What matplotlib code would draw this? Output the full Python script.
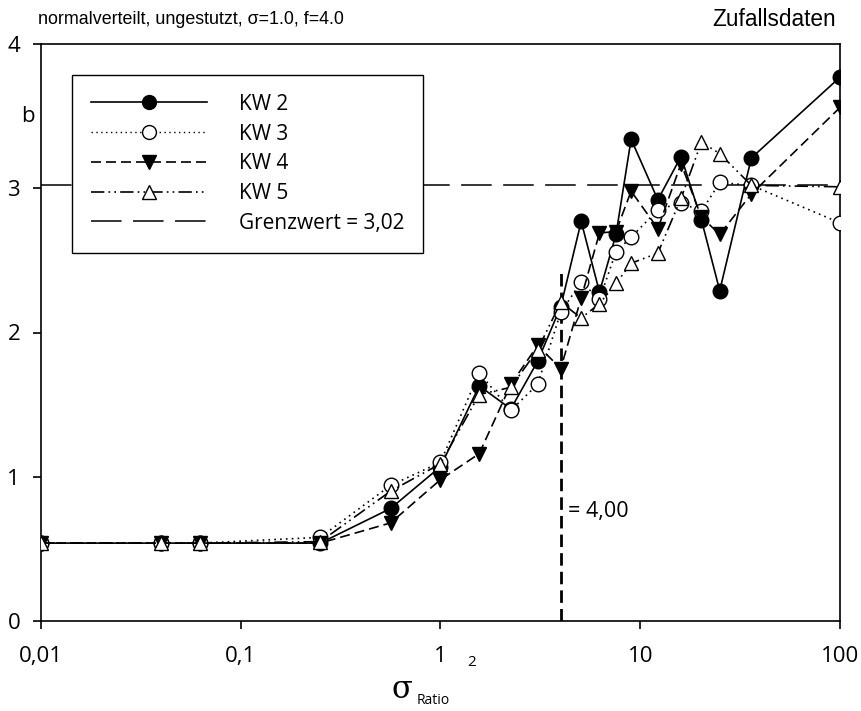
import matplotlib
matplotlib.use('Agg')
import matplotlib.pyplot as plt
from matplotlib.lines import Line2D
from matplotlib.ticker import FixedLocator, NullLocator

# Werte
sigma_ratio_sq = [0.01, 0.04, 0.0625, 0.25, 0.5625, 1, 1.5625, 2.25, 3.0625, 4,
                  5.0625, 6.25, 7.5625, 9, 12.25, 16, 20.25, 25, 36, 100]
kw2 = [0.54, 0.54, 0.54, 0.54, 0.78, 1.07, 1.63, 1.47, 1.80, 2.18,
       2.77, 2.28, 2.68, 3.34, 2.92, 3.22, 2.78, 2.29, 3.21, 3.77]
kw3 = [0.54, 0.54, 0.54, 0.58, 0.94, 1.10, 1.72, 1.46, 1.64, 2.14,
       2.35, 2.23, 2.56, 2.66, 2.85, 2.90, 2.84, 3.04, 3.02, 2.76]
kw4 = [0.54, 0.54, 0.54, 0.54, 0.68, 0.98, 1.16, 1.64, 1.91, 1.75,
       2.24, 2.69, 2.70, 2.98, 2.72, 3.17, 2.80, 2.68, 2.96, 3.56]
kw5 = [0.54, 0.54, 0.54, 0.55, 0.90, 1.09, 1.57, 1.62, 1.88, 2.21,
       2.10, 2.20, 2.34, 2.48, 2.55, 2.93, 3.32, 3.24, 3.02, 3.01]
grenzwert = 3.02
schwelle_x = 4.0
schwelle_top = 2.45
x_ticks = [0.01, 0.1, 1, 10, 100]
x_labels = ['0,01', '0,1', '1', '10', '100']
y_ticks = [0, 1, 2, 3, 4]

TICKFONT = 'Open Sans'
ARIAL = 'Liberation Sans'

fig = plt.figure(figsize=(8.62, 7.11), dpi=100)
ax = fig.add_axes([41 / 862, 90 / 711, (840 - 41) / 862, (621 - 44) / 711])

ax.set_xscale('log')
ax.set_xlim(0.01, 100)
ax.set_ylim(0, 4)

# Grenzwert-Linie und Schwelle
ax.plot([0.01, 100], [grenzwert, grenzwert], color='black', lw=1.1,
        dashes=(20, 7.5), zorder=1)
ax.plot([schwelle_x, schwelle_x], [0, schwelle_top], color='black', lw=2.0,
        dashes=(4.5, 2.2), zorder=1)

ms = 10.5
series = [
    (kw2, None, 'o', 'black'),
    (kw3, (1, 2.5), 'o', 'white'),
    (kw4, (6, 3), 'v', 'black'),
    (kw5, (8, 2.5, 1, 2.5, 1, 2.5), '^', 'white'),
]
for vals, dsh, mk, fc in series:
    kw = dict(color='black', lw=1.2, marker=mk, markersize=ms,
              markerfacecolor=fc, markeredgecolor='black', markeredgewidth=1.0,
              zorder=3)
    if dsh is None:
        ax.plot(sigma_ratio_sq, vals, linestyle='-', **kw)
    else:
        ax.plot(sigma_ratio_sq, vals, linestyle=(0, dsh), **kw)

ax.xaxis.set_major_locator(FixedLocator(x_ticks))
ax.xaxis.set_minor_locator(NullLocator())
ax.set_xticklabels(x_labels)
ax.set_yticks(y_ticks)
ax.set_yticklabels([str(v) for v in y_ticks])
ax.tick_params(direction='out', length=6, width=1.2, labelsize=16)
ax.tick_params(axis='x', pad=12)
ax.tick_params(axis='y', pad=9)
for lab in ax.get_xticklabels() + ax.get_yticklabels():
    lab.set_family(TICKFONT)
for s in ax.spines.values():
    s.set_linewidth(1.2)

# Legende
handles = [
    Line2D([], [], color='black', lw=1.2, marker='o', markersize=ms - 0.5,
           markerfacecolor='black', markeredgecolor='black'),
    Line2D([], [], color='black', lw=1.0, linestyle=(0, (1, 2.5)), marker='o',
           markersize=ms - 0.5, markerfacecolor='white', markeredgecolor='black'),
    Line2D([], [], color='black', lw=1.2, linestyle=(0, (6, 3)), marker='v',
           markersize=ms - 0.5, markerfacecolor='black', markeredgecolor='black'),
    Line2D([], [], color='black', lw=1.2, linestyle=(0, (8, 2.5, 1, 2.5, 1, 2.5)),
           marker='^', markersize=ms - 0.5, markerfacecolor='white',
           markeredgecolor='black'),
    Line2D([], [], color='black', lw=1.1, linestyle=(0, (20, 7.5))),
]
labels = ['KW 2', 'KW 3', 'KW 4', 'KW 5', 'Grenzwert = 3,02']
leg = ax.legend(handles, labels, loc='upper left',
                bbox_to_anchor=((72 - 41) / 799, (621 - 75) / 577),
                borderaxespad=0,
                frameon=True, fancybox=False, edgecolor='black', framealpha=1,
                handlelength=5.6, handletextpad=1.5, labelspacing=0.42,
                borderpad=0.9, prop={'family': TICKFONT, 'size': 15})
leg.get_frame().set_linewidth(1.0)

ax.text(4.35, 0.76, '= 4,00', fontsize=15.5, family=TICKFONT,
        va='center', ha='left')

# Beschriftungen ausserhalb der Achse
fig.text(38 / 862, 1 - 20 / 711, 'normalverteilt, ungestutzt, \u03c3=1.0, f=4.0',
         fontsize=12.9, family=ARIAL, ha='left', va='center')
fig.text(836 / 862, 1 - 19 / 711, 'Zufallsdaten', fontsize=16.3, family=ARIAL,
         ha='right', va='center')
fig.text(28 / 862, 1 - 116 / 711, 'b', fontsize=16, family=TICKFONT,
         ha='center', va='center')
fig.text(402 / 862, 1 - 689 / 711, '\u03c3', fontsize=22, family='DejaVu Serif',
         ha='center', va='center')
fig.text(417 / 862, 1 - 701 / 711, 'Ratio', fontsize=10, family=TICKFONT,
         ha='left', va='center')
fig.text(472 / 862, 1 - 662 / 711, '2', fontsize=11, family=TICKFONT,
         ha='center', va='center')

fig.savefig('out.png', dpi=100)
